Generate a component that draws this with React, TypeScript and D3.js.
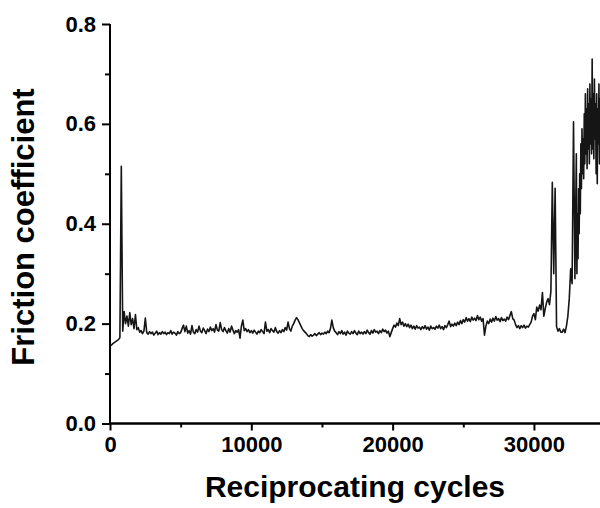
import { useRef, useEffect } from "react";
import { select, scaleLinear, line, axisLeft, axisBottom } from "d3";

// friction readings, one every 100 cycles from 0 to 32900
const mainStep = 100;
const frictionMain = [
  0.155, 0.157, 0.160, 0.162, 0.164, 0.166, 0.168, 0.172, 0.515, 0.185,
  0.224, 0.200, 0.215, 0.195, 0.222, 0.198, 0.210, 0.190, 0.218, 0.188,
  0.192, 0.183, 0.186, 0.180, 0.185, 0.211, 0.182, 0.179, 0.184, 0.180,
  0.183, 0.177, 0.181, 0.185, 0.178, 0.182, 0.179, 0.184, 0.180, 0.183,
  0.178, 0.182, 0.180, 0.186, 0.179, 0.183, 0.181, 0.177, 0.184, 0.180,
  0.182, 0.190, 0.197, 0.184, 0.195, 0.181, 0.186, 0.179, 0.196, 0.183,
  0.180, 0.188, 0.183, 0.195, 0.185, 0.182, 0.191, 0.186, 0.180, 0.189,
  0.184, 0.193, 0.186, 0.190, 0.183, 0.198, 0.187, 0.185, 0.202, 0.188,
  0.184, 0.192, 0.186, 0.181, 0.190, 0.183, 0.195, 0.187, 0.180, 0.186,
  0.183, 0.188, 0.171, 0.195, 0.207, 0.186, 0.190, 0.184, 0.188, 0.182,
  0.186, 0.181, 0.187, 0.183, 0.179, 0.185, 0.182, 0.188, 0.184, 0.180,
  0.203, 0.185, 0.188, 0.182, 0.190, 0.186, 0.183, 0.192, 0.184, 0.181,
  0.186, 0.182, 0.188, 0.184, 0.192, 0.187, 0.203, 0.190, 0.185, 0.195,
  0.200, 0.207, 0.212, 0.208, 0.202, 0.196, 0.190, 0.186, 0.183, 0.180,
  0.176, 0.174, 0.178, 0.175, 0.177, 0.180, 0.176, 0.179, 0.182, 0.178,
  0.181, 0.179, 0.183, 0.180, 0.185, 0.182, 0.190, 0.207, 0.192, 0.185,
  0.182, 0.178, 0.184, 0.180, 0.186, 0.179, 0.183, 0.177, 0.185, 0.181,
  0.179, 0.184, 0.180, 0.186, 0.181, 0.178, 0.185, 0.180, 0.183, 0.179,
  0.184, 0.180, 0.187, 0.182, 0.179, 0.186, 0.181, 0.188, 0.183, 0.185,
  0.180, 0.186, 0.182, 0.189, 0.184, 0.187, 0.181, 0.185, 0.174, 0.182,
  0.190, 0.197, 0.193, 0.201, 0.196, 0.210, 0.198, 0.203, 0.195, 0.200,
  0.194, 0.199, 0.192, 0.197, 0.190, 0.195, 0.189, 0.196, 0.191, 0.193,
  0.188, 0.194, 0.190, 0.196, 0.189, 0.193, 0.187, 0.195, 0.190, 0.192,
  0.189, 0.195, 0.191, 0.197, 0.190, 0.194, 0.188, 0.196, 0.192, 0.198,
  0.205, 0.194, 0.199, 0.195, 0.201, 0.196, 0.203, 0.198, 0.206, 0.200,
  0.208, 0.203, 0.212, 0.205, 0.210, 0.204, 0.213, 0.207, 0.211, 0.206,
  0.216, 0.208, 0.213, 0.205, 0.210, 0.177, 0.195, 0.205, 0.200, 0.209,
  0.203, 0.211, 0.205, 0.214, 0.207, 0.210, 0.204, 0.212, 0.206, 0.209,
  0.205, 0.213, 0.208, 0.216, 0.224, 0.210, 0.207, 0.198, 0.192, 0.196,
  0.190, 0.196, 0.192, 0.197, 0.191, 0.195, 0.193, 0.198, 0.203, 0.215,
  0.220, 0.208, 0.233, 0.225, 0.237, 0.228, 0.262, 0.215, 0.230, 0.243,
  0.250, 0.238, 0.265, 0.483, 0.300, 0.471, 0.194, 0.185, 0.190, 0.183,
  0.183, 0.189, 0.182, 0.195, 0.215, 0.250, 0.310, 0.280, 0.604, 0.290,
];

// the noisy failure stage, one reading every 40 cycles from 33000
const tailStart = 33000;
const tailStep = 40;
const frictionTail = [
  0.54, 0.30, 0.42, 0.33, 0.47, 0.38, 0.50, 0.42, 0.56, 0.47,
  0.59, 0.50, 0.57, 0.49, 0.62, 0.52, 0.66, 0.54, 0.63, 0.51,
  0.67, 0.55, 0.64, 0.52, 0.68, 0.56, 0.65, 0.54, 0.73, 0.55,
  0.66, 0.53, 0.69, 0.57, 0.64, 0.50, 0.66, 0.48, 0.63, 0.56,
  0.68, 0.52, 0.65, 0.58, 0.62, 0.55, 0.66, 0.57, 0.63, 0.56,
  0.60,
];

const yMajor = [0, 0.2, 0.4, 0.6, 0.8];
const yMinor = [0.1, 0.3, 0.5, 0.7];
const xMajor = [0, 10000, 20000, 30000];
const xMinor = [5000, 15000, 25000, 35000];

const points = [
  ...frictionMain.map((v, i) => [i * mainStep, v]),
  ...frictionTail.map((v, i) => [tailStart + i * tailStep, v]),
];

const width = 600;
const height = 508;
const fontFamily = "'Liberation Sans', Arial, sans-serif";

const App = () => {
  const svgRef = useRef(null);

  const xScale = scaleLinear().domain([0, 35000]).range([110, 604.6]);
  const yScale = scaleLinear().domain([0, 0.8]).range([423.5, 24]);

  useEffect(() => {
    const svg = select(svgRef.current);
    svg.selectAll(".axis").remove();

    // minor ticks first, then the major ones with labels
    const yMinorAxis = svg.append("g").attr("class", "axis")
      .attr("transform", "translate(110,0)")
      .call(axisLeft(yScale).tickValues(yMinor).tickSize(5).tickFormat(() => ""));
    const yAxis = svg.append("g").attr("class", "axis")
      .attr("transform", "translate(110,0)")
      .call(axisLeft(yScale).tickValues(yMajor).tickSize(8).tickPadding(6).tickFormat(d => d.toFixed(1)));
    const xMinorAxis = svg.append("g").attr("class", "axis")
      .attr("transform", "translate(0,423.5)")
      .call(axisBottom(xScale).tickValues(xMinor).tickSize(4).tickFormat(() => ""));
    const xAxis = svg.append("g").attr("class", "axis")
      .attr("transform", "translate(0,423.5)")
      .call(axisBottom(xScale).tickValues(xMajor).tickSize(7).tickPadding(6).tickFormat(d => String(d)));

    [yMinorAxis, yAxis, xMinorAxis, xAxis].forEach(g => {
      g.select(".domain").attr("stroke", "#000").attr("stroke-width", 2);
      g.selectAll(".tick line").attr("stroke", "#000").attr("stroke-width", 2);
      g.selectAll(".tick text")
        .attr("fill", "#000")
        .attr("font-family", fontFamily)
        .attr("font-weight", "bold")
        .attr("font-size", 22);
    });
    // no outer end ticks on the axis lines
    [yMinorAxis, yAxis, xMinorAxis, xAxis].forEach(g => {
      const isY = g === yMinorAxis || g === yAxis;
      g.select(".domain").attr("d", isY
        ? `M0,${yScale(0)}V${yScale(0.8)}`
        : `M${xScale(0)},0H${xScale(35000)}`);
    });
  }, []);

  const path = line()
    .x(d => xScale(d[0]))
    .y(d => yScale(d[1]))(points);

  return (
    <svg ref={svgRef} width={width} height={height}
      style={{ position: "absolute", left: 0, top: 0, background: "#fff" }}>
      <rect width={width} height={height} fill="#fff" />
      <path d={path} fill="none" stroke="#151515" strokeWidth={1.6} strokeLinejoin="round" />
      <text x={355} y={497} textAnchor="middle" fontFamily={fontFamily}
        fontWeight="bold" fontSize={30} fill="#000">Reciprocating cycles</text>
      <text transform="translate(34,227) rotate(-90)" textAnchor="middle"
        fontFamily={fontFamily} fontWeight="bold" fontSize={31} fill="#000">Friction coefficient</text>
    </svg>
  );
};

export default App;
